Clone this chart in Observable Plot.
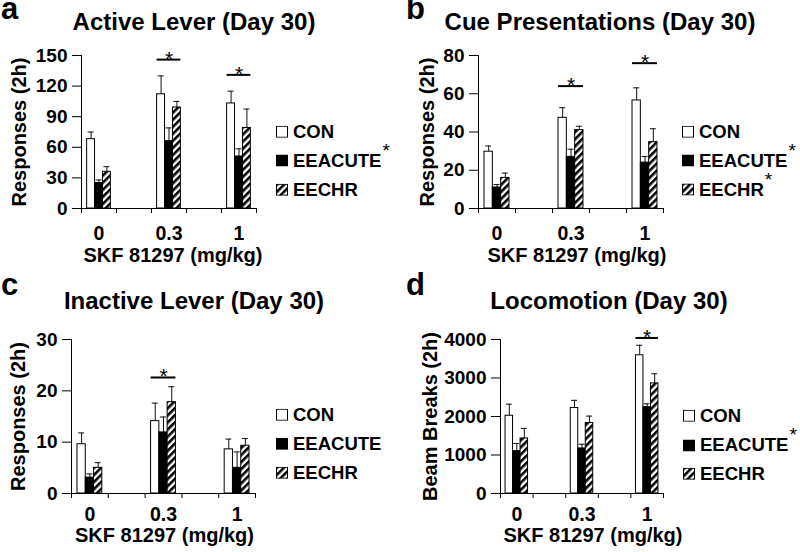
<!DOCTYPE html>
<html><head><meta charset="utf-8">
<script src="https://cdn.jsdelivr.net/npm/d3@7"></script>
<script src="https://cdn.jsdelivr.net/npm/@observablehq/plot@0.6"></script>
<style>
body{margin:0;background:#fff;font-family:"Liberation Sans",Arial,sans-serif;color:#000;}
#root{position:relative;width:800px;height:552px;overflow:hidden;}
.panel{position:absolute;width:400px;height:276px;}
.panel svg.plotsvg{position:absolute;left:0;top:0;}
.letter{position:absolute;font-weight:bold;font-size:31px;line-height:1;}
.title{position:absolute;font-weight:bold;font-size:24px;white-space:nowrap;transform:translate(-50%,-50%);line-height:1;}
.legend{position:absolute;font-weight:bold;font-size:18.5px;}
.legend .row{position:absolute;left:0;white-space:nowrap;display:flex;align-items:center;transform:translateY(-50%);line-height:1;}
.legend .row svg{margin-right:5px;flex:none;}
.legend .star{position:relative;top:-11px;font-weight:normal;font-size:19px;margin-left:1px;}
</style>
</head><body>
<svg width="0" height="0" style="position:absolute">
  <defs>
    <pattern id="hatch" patternUnits="userSpaceOnUse" width="5" height="5" patternTransform="rotate(45)">
      <rect x="0" y="0" width="5" height="5" fill="#fff"></rect>
      <rect x="0" y="0" width="2.6" height="5" fill="#000"></rect>
    </pattern>
  </defs>
</svg>
<div id="root"></div>
<script>
// ---------- data ----------
const doses = ["0", "0.3", "1"];
const xDomain = ["0", " ", "0.3", "  ", "1"]; // blank spacer categories between doses
const groups = ["CON", "EEACUTE", "EECHR"];
const xTitle = "SKF 81297 (mg/kg)";

// Panel a: Active Lever (Day 30)
const activeMean = {CON: [68, 112, 103], EEACUTE: [25, 66, 51], EECHR: [36, 99, 79]};
const activeSem  = {CON: [7, 18, 12], EEACUTE: [3, 13, 7.5], EECHR: [5, 6, 18.5]};
const activeSig  = [{dose: "0.3", y: 146}, {dose: "1", y: 131}];
const activeTicks = [0, 30, 60, 90, 120, 150];
const activeStars = ["EEACUTE"];

// Panel b: Cue Presentations (Day 30)
const cueMean = {CON: [29.7, 47.4, 56.5], EEACUTE: [11, 27, 24], EECHR: [16, 41, 34.7]};
const cueSem  = {CON: [3, 5.3, 6.6], EEACUTE: [1.5, 4, 3.2], EECHR: [2.5, 2, 7]};
const cueSig  = [{dose: "0.3", y: 64}, {dose: "1", y: 76}];
const cueTicks = [0, 20, 40, 60, 80];
const cueStars = ["EEACUTE", "EECHR"];

// Panel c: Inactive Lever (Day 30)
const inactiveMean = {CON: [9.6, 14.1, 8.6], EEACUTE: [3.1, 11.9, 5], EECHR: [5, 17.8, 9.3]};
const inactiveSem  = {CON: [2.2, 3.5, 2], EEACUTE: [0.7, 3, 3.1], EECHR: [1, 3, 1.4]};
const inactiveSig  = [{dose: "0.3", y: 22.6}];
const inactiveTicks = [0, 10, 20, 30];
const inactiveStars = [];

// Panel d: Locomotion (Day 30)
const locoMean = {CON: [2020, 2220, 3590], EEACUTE: [1100, 1170, 2240], EECHR: [1430, 1830, 2860]};
const locoSem  = {CON: [300, 200, 260], EEACUTE: [200, 110, 90], EECHR: [260, 180, 250]};
const locoSig  = [{dose: "1", y: 4040}];
const locoTicks = [0, 1000, 2000, 3000, 4000];
const locoStars = ["EEACUTE"];

// ---------- styles ----------
const fills = ["#fff", "#000", "url(#hatch)"];

const panels = [
  {letter: "a", title: "Active Lever (Day 30)", yLabel: "Responses (2h)", mean: activeMean, sem: activeSem, sig: activeSig, ticks: activeTicks, stars: activeStars,
   left: 0, top: 0, w: 270, mL: 81, mR: 14, mT: 55, mB: 68, tickPad: 18, xLabDy: 47.5, xLabDx: 4, yLabDx: -62, barFrac: 0.226,
   titleX: 194, titleY: 22, legX: 276, legY: [131.7, 160.5, 189.7], letterDx: 1},
  {letter: "b", title: "Cue Presentations (Day 30)", yLabel: "Responses (2h)", mean: cueMean, sem: cueSem, sig: cueSig, ticks: cueTicks, stars: cueStars,
   left: 400, top: 0, w: 270, mL: 78, mR: 7, mT: 55, mB: 68, tickPad: 18, xLabDy: 47.5, xLabDx: 6, yLabDx: -51, barFrac: 0.225,
   titleX: 600, titleY: 22, legX: 282, legY: [131.7, 160.5, 189.7], letterDx: 6},
  {letter: "c", title: "Inactive Lever (Day 30)", yLabel: "Responses (2h)", mean: inactiveMean, sem: inactiveSem, sig: inactiveSig, ticks: inactiveTicks, stars: inactiveStars,
   left: 0, top: 276, w: 270, mL: 71, mR: 15, mT: 63, mB: 59, tickPad: 14, xLabDy: 42, xLabDx: 1, yLabDx: -53, barFrac: 0.225,
   titleX: 194, titleY: 301, legX: 276, legY: [138.7, 167.5, 196.7], letterDx: 1},
  {letter: "d", title: "Locomotion (Day 30)", yLabel: "Beam Breaks (2h)", mean: locoMean, sem: locoSem, sig: locoSig, ticks: locoTicks, stars: locoStars,
   left: 400, top: 276, w: 270, mL: 100, mR: 7, mT: 63, mB: 59, tickPad: 14, xLabDy: 42, xLabDx: 11, yLabDx: -70, barFrac: 0.23,
   titleX: 609, titleY: 301, legX: 283, legY: [140, 169, 198], letterDx: 6}
];

const root = document.getElementById("root");

for (const p of panels) {
  const H = 276;
  const bw = (p.w - p.mL - p.mR) / xDomain.length;
  const barW = bw * p.barFrac;
  const inset = (bw - barW) / 2;
  const capW = 6;
  const capInset = (bw - capW) / 2;
  const sigInset = (bw - 3 * barW) / 2;
  const ymax = p.ticks[p.ticks.length - 1];

  const marks = [];
  groups.forEach((g, gi) => {
    const data = doses.map((d, i) => ({dose: d, value: p.mean[g][i], sem: p.sem[g][i]}));
    const dx = (gi - 1) * barW;
    marks.push(Plot.ruleX(data, {x: "dose", y1: "value", y2: d => d.value + d.sem, dx, stroke: "#111", strokeWidth: 1}));
    marks.push(Plot.tickY(data, {x: "dose", y: d => d.value + d.sem, dx, insetLeft: capInset, insetRight: capInset, stroke: "#111", strokeWidth: 1}));
    marks.push(Plot.barY(data, {x: "dose", y: "value", dx, insetLeft: inset, insetRight: inset, fill: fills[gi], stroke: "#000", strokeWidth: 1}));
  });
  // significance bars
  marks.push(Plot.tickY(p.sig, {x: "dose", y: "y", insetLeft: sigInset, insetRight: sigInset, stroke: "#000", strokeWidth: 2}));
  marks.push(Plot.text(p.sig, {x: "dose", y: "y", text: () => "*", lineAnchor: "bottom", dy: 6, fontSize: 21, fontWeight: "normal"}));
  // axes
  marks.push(Plot.ruleY([0], {stroke: "#000"}));
  marks.push(Plot.ruleX([xDomain[0]], {x: d => d, y1: 0, y2: ymax, dx: -bw / 2, stroke: "#000"}));
  marks.push(Plot.axisY({ticks: p.ticks, tickSize: 9, tickPadding: 5, fontSize: 19, tickFormat: d => String(d), label: null}));
  marks.push(Plot.axisX({ticks: doses, tickSize: 0, tickPadding: p.tickPad, fontSize: 19.5, label: null}));
  marks.push(Plot.axisX({ticks: xDomain, tickSize: 5, tickFormat: () => "", dx: -bw / 2, label: null}));
  marks.push(Plot.axisX({ticks: [xDomain[xDomain.length - 1]], tickSize: 5, tickFormat: () => "", dx: bw / 2, label: null}));
  // axis titles
  marks.push(Plot.text([p.yLabel], {text: d => d, frameAnchor: "left", textAnchor: "middle", rotate: -90, dx: p.yLabDx, fontSize: 20, lineAnchor: "middle"}));
  marks.push(Plot.text([xTitle], {text: d => d, frameAnchor: "bottom", textAnchor: "middle", dy: p.xLabDy, dx: p.xLabDx, fontSize: 20, lineAnchor: "middle"}));

  const chart = Plot.plot({
    width: p.w, height: H,
    marginLeft: p.mL, marginRight: p.mR, marginTop: p.mT, marginBottom: p.mB,
    x: {type: "band", domain: xDomain, padding: 0, round: false},
    y: {domain: [0, ymax]},
    style: {fontFamily: "Liberation Sans, Arial, sans-serif", fontWeight: "bold", fontSize: "19px", background: "transparent", overflow: "visible", color: "#000"},
    marks
  });
  chart.classList.add("plotsvg");

  const div = document.createElement("div");
  div.className = "panel";
  div.style.left = p.left + "px";
  div.style.top = p.top + "px";
  div.appendChild(chart);

  // legend
  const leg = document.createElement("div");
  leg.className = "legend";
  leg.style.left = p.legX + "px";
  leg.style.top = "0px";
  groups.forEach((g, gi) => {
    const row = document.createElement("div");
    row.className = "row";
    row.style.top = p.legY[gi] + "px";
    row.innerHTML = `<svg width="12" height="12"><rect x="0.5" y="0.5" width="11" height="11" fill="${fills[gi]}" stroke="#000" stroke-width="1"></rect></svg><span>${g}</span>` +
      (p.stars.includes(g) ? `<span class="star">*</span>` : "");
    leg.appendChild(row);
  });
  div.appendChild(leg);
  root.appendChild(div);

  const letter = document.createElement("div");
  letter.className = "letter";
  letter.textContent = p.letter;
  letter.style.left = (p.left + p.letterDx) + "px";
  letter.style.top = (p.top - 7) + "px";
  root.appendChild(letter);

  const title = document.createElement("div");
  title.className = "title";
  title.textContent = p.title;
  title.style.left = p.titleX + "px";
  title.style.top = p.titleY + "px";
  root.appendChild(title);
}
</script>
</body></html>
